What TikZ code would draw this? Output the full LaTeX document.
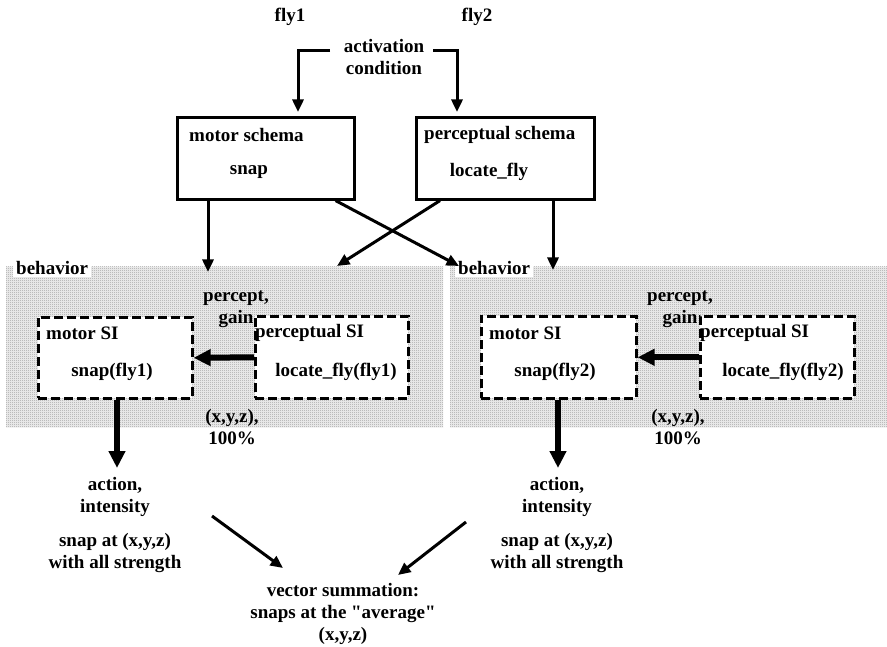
\documentclass[tikz,border=0pt]{standalone}
\usepackage{fontspec}
\setmainfont{Liberation Serif}
\usetikzlibrary{arrows.meta,calc,patterns}
\definecolor{bandlight}{gray}{0.95}
\definecolor{banddot}{gray}{0.62}
% fine checker of dots for the behavior bands
\pgfdeclarepatternformonly{bandchecker}{\pgfpointorigin}{\pgfqpoint{2pt}{2pt}}{\pgfqpoint{2pt}{2pt}}{%
  \pgfpathrectangle{\pgfpointorigin}{\pgfqpoint{1pt}{1pt}}%
  \pgfpathrectangle{\pgfqpoint{1pt}{1pt}}{\pgfqpoint{1pt}{1pt}}%
  \pgfusepath{fill}}
\begin{document}
\begin{tikzpicture}[x=1pt,y=-1pt,
  every node/.style={font=\fontsize{19}{22}\selectfont\bfseries, inner sep=0pt},
  schemabox/.style={draw, line width=2.6pt, anchor=north west},
  sibox/.style={draw, fill=white, line width=2.6pt, dash pattern=on 9pt off 4pt, anchor=north west},
  band/.style={fill=bandlight, draw=none, anchor=north west, minimum width=#1, minimum height=160pt},
  bandtexture/.style={pattern=bandchecker, pattern color=banddot},
  bandlabel/.style={fill=white, anchor=west, inner xsep=3pt, inner ysep=2pt},
  thinarrow/.style={line width=3pt, -{Triangle[length=12.5pt,width=11pt]}},
  thickarrow/.style={line width=6pt, -{Triangle[length=17pt,width=16pt]}},
  multi/.style={align=center}]
\useasboundingbox (0,0) rectangle (887,647);

% top labels
\node (fly1) at (290,17) {fly1};
\node (fly2) at (477,17) {fly2};
\node[multi] (act) at (384,57) {activation\\condition};

% schema boxes
\node[schemabox, minimum width=177pt, minimum height=82pt] (ms) at (176,116) {};
\node[anchor=west] (mslabel) at (189,135) {motor schema};
\node (msname) at (249,172) {snap};
\node[schemabox, minimum width=178pt, minimum height=82pt] (ps) at (415,116) {};
\node[anchor=west] (pslabel) at (424,135) {perceptual schema};
\node (psname) at (489,172) {locate\_fly};

% activation links
\coordinate (actL) at (330,51);
\coordinate (actR) at (433,51);
\coordinate (msIn) at (298,112);
\coordinate (psIn) at (457,112);
\draw[thinarrow] (actL) -| (msIn);
\draw[thinarrow] (actR) -| (psIn);

% behavior bands
\node[band=437pt] (beh1) at (6,267) {};
\node[band=437pt] (beh2) at (450,267) {};
\fill[bandtexture] (beh1.north west) rectangle (beh1.south east);
\fill[bandtexture] (beh2.north west) rectangle (beh2.south east);
\node[bandlabel] (beh1label) at (13,268) {behavior};
\node[bandlabel] (beh2label) at (455,268) {behavior};

% schema instances, left behavior
\node[sibox, minimum width=154pt, minimum height=81pt] (msi1) at (37,316) {};
\node[anchor=west] (msi1label) at (46,333) {motor SI};
\node (msi1name) at (112,372) {snap(fly1)};
\node[sibox, minimum width=153pt, minimum height=82pt] (psi1) at (254,315) {};
\node[anchor=west] (psi1label) at (255,333) {perceptual SI};
\node (psi1name) at (336,372) {locate\_fly(fly1)};
\node[multi] (pg1) at (236,309) {percept,\\gain};
\node[multi] (xyz1) at (232,427) {(x,y,z),\\100\%};

% schema instances, right behavior
\node[sibox, minimum width=155pt, minimum height=82pt] (msi2) at (480,315) {};
\node[anchor=west] (msi2label) at (489,333) {motor SI};
\node (msi2name) at (555,372) {snap(fly2)};
\node[sibox, minimum width=154pt, minimum height=82pt] (psi2) at (699,315) {};
\node[anchor=west] (psi2label) at (700,333) {perceptual SI};
\node (psi2name) at (783,372) {locate\_fly(fly2)};
\node[multi] (pg2) at (680,309) {percept,\\gain};
\node[multi] (xyz2) at (678,427) {(x,y,z),\\100\%};

% schema to behavior links
\coordinate (inA) at (208,272);
\coordinate (inB) at (337,266);
\coordinate (inC) at (459,266);
\coordinate (inD) at (553,270);
\draw[thinarrow] (ms.south -| inA) -- (inA);
\draw[thinarrow] ($(ms.south east)+(-20,0)$) -- (inC);
\draw[thinarrow] ($(ps.south west)+(25,0)$) -- (inB);
\draw[thinarrow] (ps.south -| inD) -- (inD);

% percept flow inside behaviors
\draw[thickarrow] (psi1.west) -- (msi1.east);
\draw[thickarrow] (psi2.west) -- (msi2.east);

% outputs
\node[multi] (ai1) at (115,497) {action,\\intensity};
\node[multi] (sa1) at (115,553) {snap at (x,y,z)\\with all strength};
\node[multi] (ai2) at (557,497) {action,\\intensity};
\node[multi] (sa2) at (557,553) {snap at (x,y,z)\\with all strength};
\coordinate (dn1) at (117,468);
\coordinate (dn2) at (558,468);
\draw[thickarrow] (msi1.south -| dn1) -- (dn1);
\draw[thickarrow] (msi2.south -| dn2) -- (dn2);

% summation
\node[multi] (vs) at (343,614) {vector summation:\\snaps at the \textquotedbl average\textquotedbl\\(x,y,z)};
\coordinate (sumL) at (212,516);
\coordinate (sumLtip) at (283,568);
\coordinate (sumR) at (466,522);
\coordinate (sumRtip) at (398,575);
\draw[thinarrow] (sumL) -- (sumLtip);
\draw[thinarrow] (sumR) -- (sumRtip);
\end{tikzpicture}
\end{document}
